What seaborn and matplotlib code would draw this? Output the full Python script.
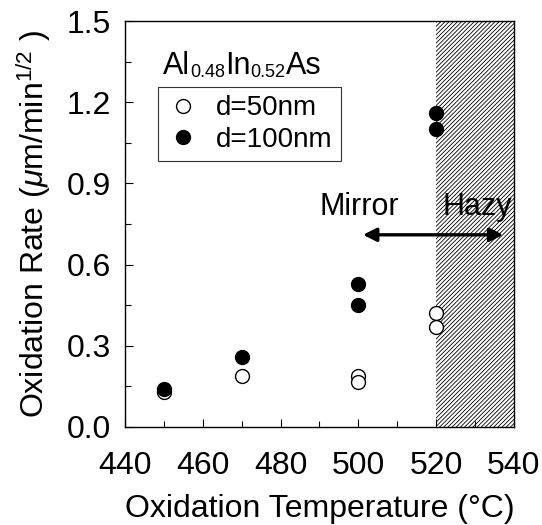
import matplotlib
matplotlib.use("Agg")
import matplotlib.pyplot as plt
from matplotlib.lines import Line2D
import seaborn as sns
import pandas as pd
import numpy as np

# ---- data ----
temp_50 = [450, 470, 500, 500, 520, 520]
rate_50 = [0.13, 0.19, 0.19, 0.165, 0.42, 0.37]
temp_100 = [450, 470, 500, 500, 520, 520]
rate_100 = [0.14, 0.26, 0.53, 0.45, 1.16, 1.10]
series_labels = ["d=50nm", "d=100nm"]
x_ticks = [440, 460, 480, 500, 520, 540]
y_ticks = [0.0, 0.3, 0.6, 0.9, 1.2, 1.5]
hazy_start, hazy_end = 520, 540

sns.set_theme(style="ticks")
plt.rcParams['font.family'] = ['Liberation Sans', 'DejaVu Sans']
plt.rcParams['mathtext.fontset'] = 'custom'
plt.rcParams['mathtext.rm'] = 'Liberation Sans'
plt.rcParams['mathtext.it'] = 'Liberation Sans:italic'
plt.rcParams['hatch.linewidth'] = 0.6
for k in ['text.color', 'axes.labelcolor', 'xtick.color', 'ytick.color',
          'xtick.labelcolor', 'ytick.labelcolor']:
    plt.rcParams[k] = 'black'

df = pd.DataFrame({
    "T": temp_50 + temp_100,
    "rate": rate_50 + rate_100,
    "d": [series_labels[0]] * len(temp_50) + [series_labels[1]] * len(temp_100),
})

fig = plt.figure(figsize=(5.42, 5.25), dpi=100)
ax = fig.add_axes([0.2306, 0.1867, 0.948 - 0.2306, 0.96 - 0.1867])

ax.axvspan(hazy_start, hazy_end, facecolor="white", edgecolor="black",
           hatch="////////", linewidth=0, zorder=0)

sns.scatterplot(data=df[df.d == series_labels[0]], x="T", y="rate", ax=ax,
                marker="o", s=100, facecolor="white", edgecolor="black",
                linewidth=1.0, legend=False, zorder=3)
sns.scatterplot(data=df[df.d == series_labels[1]], x="T", y="rate", ax=ax,
                marker="o", s=100, color="black", edgecolor="black",
                linewidth=1.0, legend=False, zorder=3)

ax.set_xlim(440, 540)
ax.set_ylim(0, 1.5)
ax.set_xticks(x_ticks)
ax.set_yticks(y_ticks)
ax.set_xticklabels([str(v) for v in x_ticks])
ax.set_yticklabels([f"{v:.1f}" for v in y_ticks])
ax.set_xticks(np.arange(450, 540, 20), minor=True)
ax.set_yticks(np.arange(0.15, 1.5, 0.3), minor=True)
ax.tick_params(which="both", direction="in", top=False, right=False,
               labelsize=23, color="black", labelcolor="black")
ax.tick_params(axis="x", which="major", pad=17)
ax.tick_params(axis="y", which="major", pad=10)
ax.tick_params(which="major", length=6, width=0.8)
ax.tick_params(which="minor", length=4, width=0.8)
for sp in ax.spines.values():
    sp.set_visible(True)
    sp.set_color("black")
    sp.set_linewidth(1.0)

ax.set_xlabel("Oxidation Temperature (°C)", fontsize=23, labelpad=10)
ax.set_ylabel(r"Oxidation Rate ($\mu$m/min$^{1/2}$ )", fontsize=23, labelpad=10)

# Arrow and labels
ax.annotate("", xy=(537.3, 0.71), xytext=(501.2, 0.71),
            arrowprops=dict(arrowstyle="<|-|>", color="black", lw=2.4,
                            mutation_scale=20, shrinkA=0, shrinkB=0), zorder=4)
ax.text(500.3, 0.783, "Mirror", fontsize=22, ha="center", va="baseline")
ax.text(530.5, 0.783, "Hazy", fontsize=22, ha="center", va="baseline")

# Title with subscripts on baseline
t = ax.text(449.8, (427 - 74) / 270.7, "Al", fontsize=22, ha="left", va="baseline")
parts = [("0.48", 13), ("In", 22), ("0.52", 13), ("As", 22)]
prev = t
for s, fs in parts:
    prev = ax.annotate(s, xycoords=prev, xy=(1, 0), va="bottom", ha="left",
                       fontsize=fs)

handles = [
    Line2D([], [], marker="o", linestyle="none", markersize=10,
           markerfacecolor="white", markeredgecolor="black", markeredgewidth=1.0),
    Line2D([], [], marker="o", linestyle="none", markersize=10,
           markerfacecolor="black", markeredgecolor="black"),
]
leg = ax.legend(handles, series_labels, loc="upper left",
                bbox_to_anchor=((158 - 125) / 389, (427 - 87) / 406),
                borderaxespad=0, fontsize=20, frameon=True, fancybox=False,
                handletextpad=0.6, borderpad=0.3, labelspacing=0.2,
                handlelength=1.2)
leg.get_frame().set_edgecolor("black")
leg.get_frame().set_linewidth(0.8)
for txt in leg.get_texts():
    txt.set_color("black")

fig.savefig("out.png", dpi=100)
